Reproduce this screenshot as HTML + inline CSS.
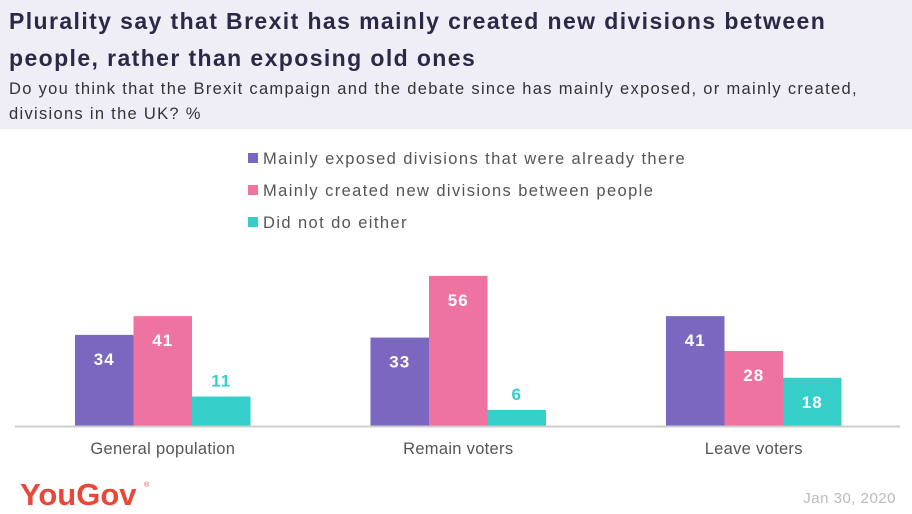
<!DOCTYPE html>
<html><head><meta charset="utf-8"><style>
body{margin:0;width:912px;height:514px;background:#fff;font-family:"Liberation Sans",sans-serif;overflow:hidden;position:relative}
#hdr{position:absolute;left:0;top:0;width:912px;height:129px;background:#efedf6}
.t{position:absolute;left:9px;font-weight:bold;font-size:23px;color:#2a2946;letter-spacing:1.4px;white-space:nowrap}
.s{position:absolute;left:9px;font-size:16.5px;color:#333;letter-spacing:1.3px;white-space:nowrap}
</style></head><body>
<div id="hdr"></div>
<div class="t" style="top:8px">Plurality say that Brexit has mainly created new divisions between</div>
<div class="t" style="top:45px">people, rather than exposing old ones</div>
<div class="s" style="top:80px">Do you think that the Brexit campaign and the debate since has mainly exposed, or mainly created,</div>
<div class="s" style="top:105px">divisions in the UK? %</div>
<svg id="chart" width="912" height="514" style="position:absolute;left:0;top:0"></svg>
<script>
const categories=["General population","Remain voters","Leave voters"];
const seriesNames=["Mainly exposed divisions that were already there","Mainly created new divisions between people","Did not do either"];
const exposed=[34,33,41];
const created=[41,56,28];
const neither=[11,6,18];
const series=[exposed,created,neither];
const colors=["#7b67c0","#ef73a0","#36cec8"];
const svg=document.getElementById('chart');
const NS="http://www.w3.org/2000/svg";
const baseY=426, unit=2.68;
const y=v=>baseY-v*unit;
const groupX=i=>75+i*295.5;
const barW=58.5;
function mk(t,a){const e=document.createElementNS(NS,t);for(const k in a)e.setAttribute(k,a[k]);svg.appendChild(e);return e;}
seriesNames.forEach((n,i)=>{
 const r=mk('rect',{x:248,y:153+i*32,width:10,height:10,fill:colors[i]});
 
 
 const t=mk('text',{x:263,y:164+i*32,'font-size':16.5,fill:'#555','letter-spacing':1.4,'font-family':'Liberation Sans, sans-serif'});
 t.textContent=n;
 
 
});
categories.forEach((c,g)=>{
 series.forEach((s,k)=>{
  const v=s[g];const x=groupX(g)+k*barW;
  const r=mk('rect',{x:x,y:y(v),width:barW,height:v*unit,fill:colors[k]});
  
  
  const inside=v>=15;
  const t=mk('text',{x:x+barW/2,y:inside?y(v)+30:y(v)-10,'text-anchor':'middle','font-size':17,'font-weight':'bold',fill:inside?'#fff':colors[k],'letter-spacing':1,'font-family':'Liberation Sans, sans-serif'});
  t.textContent=v;
  
  
 });
 const l=mk('text',{x:groupX(g)+barW*1.5,y:454,'text-anchor':'middle','font-size':16.5,fill:'#555','letter-spacing':0.3,'font-family':'Liberation Sans, sans-serif'});
 l.textContent=c;
 
 
});
const ax=mk('line',{x1:15,x2:900,y1:baseY+0.5,y2:baseY+0.5,stroke:'#ccc','stroke-width':2});


const logo=mk('text',{x:20,y:505,'font-size':31,'font-weight':'bold',fill:'#e8473a','letter-spacing':'0','font-family':'Liberation Sans, sans-serif'});
logo.textContent='YouGov';


const rg=mk('text',{x:144,y:487,'font-size':7,fill:'#e8473a'});
rg.textContent='®';


const d=mk('text',{x:896,y:503,'text-anchor':'end','font-size':15,fill:'#bbb','letter-spacing':0.5,'font-family':'Liberation Sans, sans-serif'});
d.textContent='Jan 30, 2020';


</script>
</body></html>
